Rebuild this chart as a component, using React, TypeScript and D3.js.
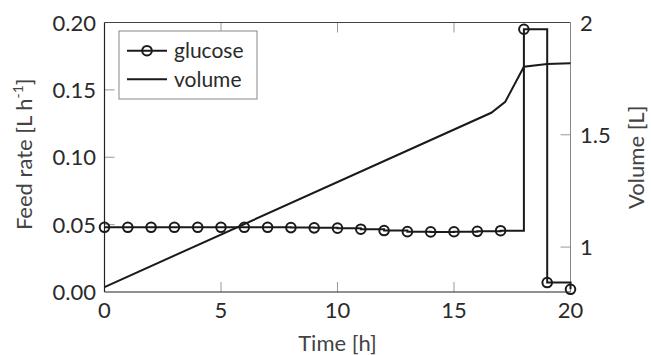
import React from "react";
import * as d3 from "d3";

const glucoseTime = [0,1,2,3,4,5,6,7,8,9,10,11,12,13,14,15,16,17,18,19,20];
const glucoseRate = [0.048,0.048,0.048,0.048,0.048,0.048,0.048,0.048,0.0478,0.0476,0.0474,0.0466,0.0456,0.0448,0.0446,0.0447,0.0450,0.0455,0.195,0.007,0.002];
const volumeTime = [0, 16.6, 17.2, 18, 19, 20];
const volumeValue = [0.822, 1.598, 1.647, 1.803, 1.815, 1.818];
const xTicks = [0, 5, 10, 15, 20];
const yLeftTicks = [0, 0.05, 0.1, 0.15, 0.2];
const yRightTicks = [1, 1.5, 2];

const W = 651, H = 355;
const L = 104.5, R = 570.5, T = 22.5, B = 292;
const FONT = "Lato, 'Liberation Sans', sans-serif";

export default function App() {
  const x = d3.scaleLinear().domain([0, 20]).range([L, R]);
  const yL = d3.scaleLinear().domain([0, 0.2]).range([B, T]);
  const yR = d3.scaleLinear().domain([0.8, 2]).range([B, T]);

  const gData = glucoseTime.map((t, i) => [t, glucoseRate[i]] as [number, number]);
  const vData = volumeTime.map((t, i) => [t, volumeValue[i]] as [number, number]);

  const gLine = d3.line<[number, number]>().x(d => x(d[0])).y(d => yL(d[1])).curve(d3.curveStepAfter);
  const vLine = d3.line<[number, number]>().x(d => x(d[0])).y(d => yR(d[1]));

  const tickCol = "#999";
  const txtCol = "#2a2a2a";
  const lblCol = "#444";
  const ink = "#1a1a1a";

  return (
    <svg width={W} height={H} style={{ position: "absolute", left: 0, top: 0, background: "#fff" }} fontFamily={FONT}>
      <rect x={0} y={0} width={W} height={H} fill="#fff" />
      {xTicks.filter(t => t > 0 && t < 20).map(t => (
        <g key={"xt" + t}>
          <line x1={x(t)} x2={x(t)} y1={B} y2={B - 10} stroke={tickCol} strokeWidth={1} />
          <line x1={x(t)} x2={x(t)} y1={T} y2={T + 10} stroke={tickCol} strokeWidth={1} />
        </g>
      ))}
      {yLeftTicks.filter(v => v > 0 && v < 0.2).map(v => (
        <line key={"yl" + v} x1={L} x2={L + 10} y1={yL(v)} y2={yL(v)} stroke={tickCol} strokeWidth={1} />
      ))}
      {yRightTicks.filter(v => v < 2).map(v => (
        <line key={"yr" + v} x1={R} x2={R - 10} y1={yR(v)} y2={yR(v)} stroke={tickCol} strokeWidth={1} />
      ))}
      <line x1={L} x2={R} y1={T} y2={T} stroke="#444" strokeWidth={1} />
      <line x1={R} x2={R} y1={T} y2={B} stroke="#888" strokeWidth={1} />
      <line x1={L} x2={L} y1={T} y2={B} stroke="#222" strokeWidth={1.2} />
      <line x1={L} x2={R} y1={B} y2={B} stroke="#222" strokeWidth={1.2} />

      <path d={vLine(vData) || ""} fill="none" stroke={ink} strokeWidth={2} />
      <path d={gLine(gData) || ""} fill="none" stroke={ink} strokeWidth={2} />
      {gData.map((d, i) => (
        <circle key={"m" + i} cx={x(d[0])} cy={yL(d[1])} r={4.8} fill="none" stroke={ink} strokeWidth={2} />
      ))}

      {xTicks.map(t => (
        <text key={"xl" + t} x={x(t)} y={318} textAnchor="middle" fontSize={22} fill={txtCol}>{t}</text>
      ))}
      {yLeftTicks.map(v => (
        <text key={"yll" + v} x={96} y={yL(v) + 8} textAnchor="end" fontSize={22} fill={txtCol}>{v.toFixed(2)}</text>
      ))}
      {yRightTicks.map(v => (
        <text key={"yrl" + v} x={580} y={yR(v) + 8} textAnchor="start" fontSize={22} fill={txtCol}>{String(v)}</text>
      ))}

      <text x={(L + R) / 2} y={351} textAnchor="middle" fontSize={22} fill={lblCol}>Time [h]</text>
      <text transform={`translate(32,${(T + B) / 2 - 3}) rotate(-90)`} textAnchor="middle" fontSize={22} fill={lblCol}>
        Feed rate [L h<tspan dy={-9} fontSize={14}>-1</tspan><tspan dy={9}>]</tspan>
      </text>
      <text transform={`translate(644,${(T + B) / 2}) rotate(-90)`} textAnchor="middle" fontSize={22} fill={lblCol}>Volume [L]</text>

      <rect x={119} y={31} width={138} height={68} fill="#fff" stroke="#888" strokeWidth={1} />
      <line x1={127} x2={167} y1={50.7} y2={50.7} stroke={ink} strokeWidth={2} />
      <circle cx={147} cy={50.7} r={4.8} fill="none" stroke={ink} strokeWidth={2} />
      <text x={174} y={58} fontSize={21} fill={txtCol}>glucose</text>
      <line x1={127} x2={167} y1={79.3} y2={79.3} stroke={ink} strokeWidth={2} />
      <text x={174} y={86.5} fontSize={21} fill={txtCol}>volume</text>
    </svg>
  );
}
